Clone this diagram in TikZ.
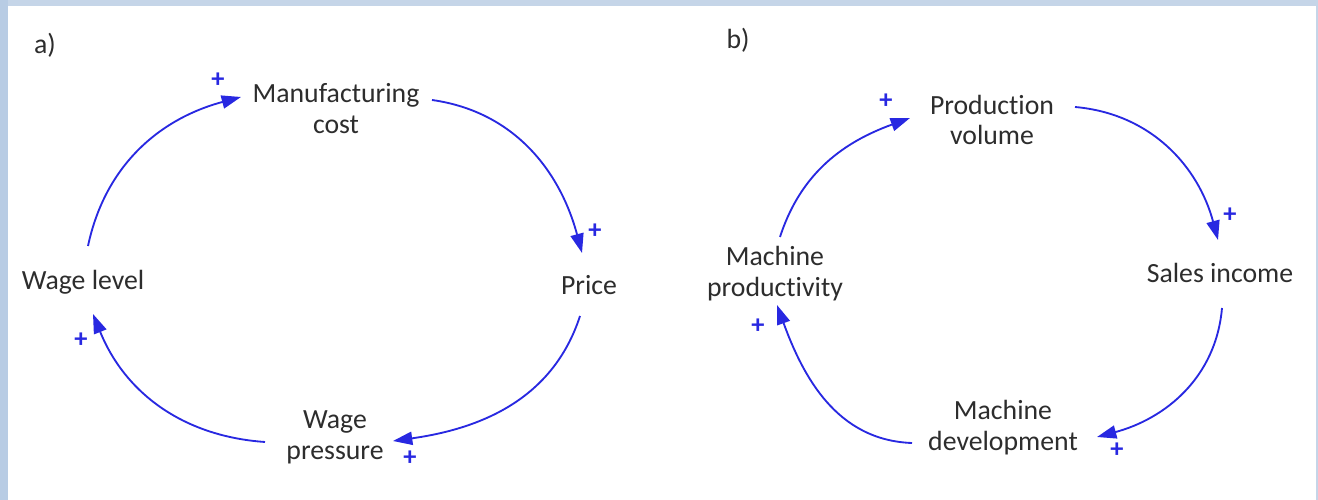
\documentclass[tikz,border=0pt]{standalone}
\usepackage{fontspec}
\setmainfont[RawFeature={-liga;-dlig;-clig;-calt}]{Carlito}
\usetikzlibrary{arrows.meta}
\definecolor{txt}{RGB}{45,45,45}
\definecolor{lnk}{RGB}{40,40,225}
\definecolor{bandtop}{RGB}{197,213,232}
\definecolor{bandleft}{RGB}{184,204,228}
\tikzset{
  lbl/.style={text=txt,align=center,inner sep=0pt,font=\fontsize{15.8}{17.6}\selectfont},
  pl/.style={text=lnk,inner sep=0pt,font=\fontsize{15}{15}\selectfont\bfseries},
  lnkarrow/.style={draw=lnk,line width=1.05pt,-{Triangle[length=11pt,width=7.5pt]}}
}
\begin{document}
\begin{tikzpicture}[x=0.02cm,y=0.02cm]
\fill[white] (0,0) rectangle (1318,500);
\useasboundingbox (0,0) rectangle (1318,500);
\fill[bandtop] (0,494) rectangle (1318,500);
\fill[bandleft] (0,0) rectangle (8,500);
\fill[bandtop] (1316,0) rectangle (1318,500);

% panel a
\node[lbl] (la) at (45,455) {a)};
\node[lbl] (mc) at (336,391) {Manufacturing\\cost};
\node[lbl] (pr) at (589,215) {Price};
\node[lbl] (wl) at (83,218) {Wage level};
\node[lbl] (wp) at (335,63) {Wage\\pressure};

\draw[lnkarrow] ([shift={(5,36)}]wl.center) to[out=78,in=195] ([shift={(-95,12)}]mc.center);
\draw[lnkarrow] ([shift={(96,9)}]mc.center) to[out=-8,in=105] ([shift={(-7,32)}]pr.center);
\draw[lnkarrow] ([shift={(-9,-31)}]pr.center) to[out=-108,in=8] ([shift={(58,-4)}]wp.center);
\draw[lnkarrow] ([shift={(-70,-5)}]wp.center) to[out=176,in=-68] ([shift={(10,-32)}]wl.center);

\node[pl] (pa1) at (218,420) {+};
\node[pl] (pa2) at (595,269) {+};
\node[pl] (pa3) at (81,160) {+};
\node[pl] (pa4) at (410,42) {+};

% panel b
\node[lbl] (lb) at (738,460) {b)};
\node[lbl] (pv) at (992,380) {Production\\volume};
\node[lbl] (si) at (1220,227) {Sales income};
\node[lbl] (mp) at (775,226) {Machine\\productivity};
\node[lbl] (md) at (1003,72) {Machine\\development};

\draw[lnkarrow] ([shift={(5,37)}]mp.center) to[out=72,in=200] ([shift={(-82,2)}]pv.center);
\draw[lnkarrow] ([shift={(83,13)}]pv.center) to[out=-5,in=105] ([shift={(-2,33)}]si.center);
\draw[lnkarrow] ([shift={(2,-35)}]si.center) to[out=-95,in=15] ([shift={(94,-9)}]md.center);
\draw[lnkarrow] ([shift={(-91,-15)}]md.center) to[out=178,in=-70] ([shift={(2,-31)}]mp.center);

\node[pl] (pb1) at (886,399) {+};
\node[pl] (pb2) at (1230,285) {+};
\node[pl] (pb3) at (758,174) {+};
\node[pl] (pb4) at (1117,50) {+};
\end{tikzpicture}
\end{document}
